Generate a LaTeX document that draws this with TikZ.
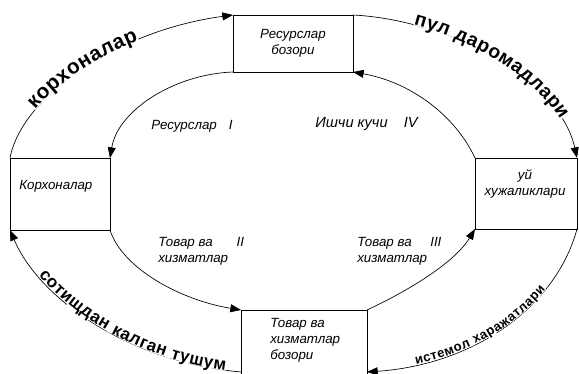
\documentclass[tikz,border=0pt]{standalone}
\usepackage{fontspec}
\setmainfont{Liberation Sans}
\usetikzlibrary{arrows.meta,decorations.text}
\tikzset{
  mkt/.style={draw,rectangle,inner sep=0pt,outer sep=0pt,line width=0.6pt},
  lbl/.style={font=\fontsize{10}{12}\selectfont\itshape,align=left,inner sep=0pt},
  arr/.style={-{Triangle[length=8pt,width=6pt]},line width=0.5pt},
  flow/.style n args={3}{decorate,decoration={text effects along path,text={#1},
    pre=moveto,pre length=#3,
    text effects/.cd,text along path,
    characters={font=\fontsize{#2}{#2}\selectfont\bfseries,fill=white,inner sep=0.2pt,anchor=base}}}
}
\begin{document}
\begin{tikzpicture}[x=0.75pt,y=-0.75pt]
  \clip (0,0) rectangle (579,374);
  \node[mkt,minimum width=90pt,minimum height=42.75pt,lbl,align=center] (rb) at (293,43.5) {Ресурслар\\бозори};
  \node[mkt,minimum width=75pt,minimum height=54pt] (korx) at (60,194) {};
  \node[mkt,minimum width=76.5pt,minimum height=53.25pt] (hh) at (526,193.5) {};
  \node[mkt,minimum width=94.5pt,minimum height=51pt] (tb) at (304,344) {};
  \node[lbl,anchor=west] (korxtxt) at (19,186) {Корхоналар};
  \node[lbl,align=center] (hhtxt) at (525,184) {уй\\хужаликлари};
  \node[lbl,anchor=west] (tbtxt) at (270,340) {Товар ва\\хизматлар\\бозори};

  \node[lbl,anchor=west] (res) at (151,126) {Ресурслар\hspace{9pt}I};
  \node[lbl,anchor=west,font=\fontsize{11}{13}\selectfont\itshape] (ishchi) at (315,124) {Ишчи кучи\hspace{12pt}IV};
  \node[lbl,anchor=north west] (tov2) at (158,237) {Товар ва\hspace{18pt}II\\хизматлар};
  \node[lbl,anchor=north west] (tov3) at (357,237) {Товар ва\hspace{14pt}III\\хизматлар};

  % outer ring
  \draw[arr] (korx.north west) .. controls (22,95) and (120,30) .. (rb.north west);
  \draw[arr] (rb.north east) .. controls (450,20) and (560,80) .. (hh.north east);
  \draw[arr] (hh.south east) .. controls (555,310) and (470,365) .. (tb.east |- 0,372);
  \draw[arr] (tb.west |- 0,372) .. controls (130,362) and (40,300) .. (korx.south west);
  % inner ring
  \draw[arr] (rb.south west) .. controls (175,74) and (118,110) .. (korx.north east);
  \draw[arr] (hh.north west) .. controls (455,115) and (410,82) .. (rb.south east);
  \draw[arr] (korx.south east) .. controls (122,268) and (180,300) .. (tb.north west);
  \draw[arr] (tb.north east) .. controls (410,290) and (455,262) .. (hh.south west);

  \path[flow={корхоналар}{15.5}{41pt}] (korx.north west) .. controls (22,95) and (120,30) .. (rb.north west);
  \path[flow={пул даромадлари}{14.5}{46pt}] (rb.north east) .. controls (450,20) and (560,80) .. (hh.north east);
  \path[flow={истемол харажатлари}{9.8}{37pt}] (tb.east |- 0,372) .. controls (470,365) and (555,310) .. (hh.south east);
  \path[flow={сотищдан калган тушум}{12.8}{40pt}] (korx.south west) .. controls (40,300) and (130,362) .. (tb.west |- 0,372);
\end{tikzpicture}
\end{document}
